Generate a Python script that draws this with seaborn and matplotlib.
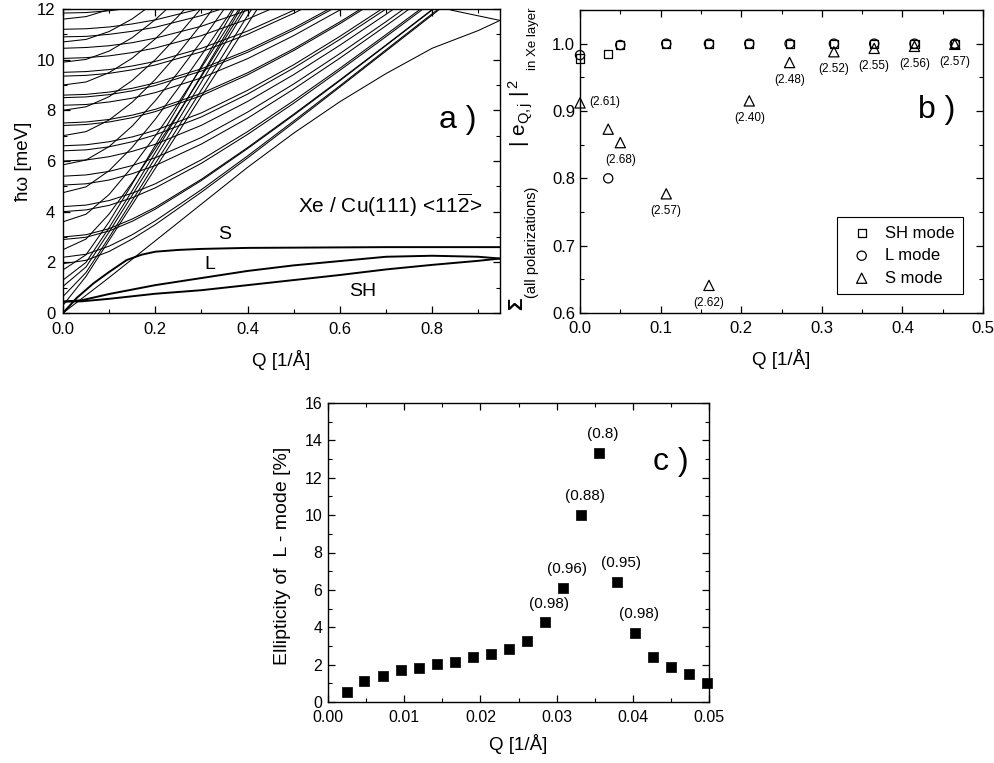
import matplotlib
matplotlib.use("Agg")
import matplotlib.pyplot as plt
import seaborn as sns
import pandas as pd
from matplotlib.ticker import MultipleLocator, FormatStrFormatter

# ---------------- panel a : dispersion curves ----------------
q_long = [0, 0.05, 0.1, 0.15, 0.2, 0.25, 0.3, 0.35, 0.4, 0.45]
long_bands = [
    [0.3, 1.45, 2.87, 4.28, 5.71, 7.13, 8.56, 9.98, 11.4, 12.83],
    [0.65, 1.6, 2.99, 4.44, 5.9, 7.35, 8.81, 10.27, 11.74, 13.2],
    [1.05, 1.82, 3.2, 4.65, 6.13, 7.62, 9.12, 10.62, 12.12],
    [1.3, 2.0, 3.37, 4.83, 6.34, 7.86, 9.39, 10.93, 12.47],
    [1.7, 2.3, 3.6, 5.1, 6.62, 8.17, 9.75, 11.33, 12.92],
    [2.5, 2.92, 3.91, 5.15, 6.5, 7.9, 9.34, 10.8, 12.26],
    [3.6, 3.9, 4.68, 5.77, 6.99, 8.3, 9.69, 11.1, 12.53],
    [4.75, 4.98, 5.62, 6.54, 7.65, 8.88, 10.18, 11.52, 12.9],
    [5.85, 6.04, 6.57, 7.38, 8.38, 9.51, 10.73, 12.02],
    [7.0, 7.16, 7.62, 8.32, 9.22, 10.26, 11.4, 12.62],
    [8.0, 8.14, 8.54, 9.18, 10.0, 10.97, 12.04],
    [9.0, 9.12, 9.49, 10.06, 10.82, 11.72, 12.73],
    [9.9, 10.01, 10.34, 10.87, 11.58, 12.42],
    [10.7, 10.8, 11.11, 11.61, 12.27],
    [11.6, 11.7, 11.98, 12.44],
]
q_trans = [0, 0.05, 0.1, 0.15, 0.2, 0.3, 0.4, 0.5, 0.6, 0.7, 0.8, 0.9]
trans_bands = [
    [1.95, 2.08, 2.43, 2.92, 3.49, 4.77, 6.12, 7.51, 8.92, 10.34, 11.76, 13.19],
    [2.2, 2.32, 2.64, 3.09, 3.64, 4.87, 6.2, 7.58, 8.97, 10.39, 11.81, 13.23],
    [2.9, 2.99, 3.24, 3.62, 4.1, 5.23, 6.49, 7.81, 9.17, 10.56, 11.96, 13.37],
    [3.0, 3.09, 3.33, 3.71, 4.17, 5.28, 6.53, 7.85, 9.2, 10.58, 11.98, 13.39],
    [4.0, 4.07, 4.25, 4.55, 4.94, 5.91, 7.05, 8.28, 9.58, 10.91, 12.27],
    [4.2, 4.26, 4.44, 4.73, 5.1, 6.05, 7.16, 8.38, 9.66, 10.99, 12.34],
    [5.05, 5.1, 5.25, 5.5, 5.82, 6.67, 7.69, 8.84, 10.06, 11.34, 12.65],
    [5.4, 5.45, 5.59, 5.82, 6.13, 6.93, 7.93, 9.04, 10.24, 11.5, 12.8],
    [6.0, 6.04, 6.17, 6.38, 6.66, 7.41, 8.35, 9.41, 10.57, 11.79, 13.06],
    [6.4, 6.44, 6.56, 6.76, 7.03, 7.74, 8.64, 9.67, 10.8, 12.0, 13.25],
    [6.6, 6.64, 6.76, 6.95, 7.21, 7.9, 8.79, 9.8, 10.92, 12.11],
    [7.4, 7.44, 7.54, 7.71, 7.95, 8.58, 9.4, 10.36, 11.42, 12.56],
    [7.5, 7.54, 7.64, 7.81, 8.04, 8.67, 9.48, 10.43, 11.49, 12.62],
    [8.2, 8.23, 8.33, 8.48, 8.7, 9.28, 10.04, 10.95, 11.96, 13.05],
    [8.5, 8.53, 8.62, 8.77, 8.98, 9.55, 10.29, 11.17, 12.16],
    [8.6, 8.63, 8.72, 8.87, 9.08, 9.64, 10.37, 11.25, 12.23],
    [9.35, 9.38, 9.46, 9.6, 9.79, 10.31, 11.0, 11.83, 12.77],
    [9.5, 9.53, 9.61, 9.75, 9.93, 10.45, 11.13, 11.95, 12.88],
    [10.05, 10.08, 10.15, 10.28, 10.46, 10.95, 11.6, 12.39],
    [10.45, 10.48, 10.55, 10.67, 10.85, 11.32, 11.95, 12.72],
    [10.9, 10.92, 11.0, 11.12, 11.28, 11.74, 12.35],
    [11.2, 11.22, 11.29, 11.41, 11.57, 12.02],
    [11.84, 11.86, 11.93, 12.04],
]
edge_q = [0, 0.1, 0.2, 0.3, 0.4, 0.5, 0.6, 0.7, 0.8, 0.9, 0.947]
edge_e = [0, 1.4, 2.85, 4.3, 5.75, 7.1, 8.34, 9.45, 10.45, 11.15, 11.55]
fold_q = [0.84, 0.947]
fold_e = [11.96, 11.55]
s_q = [0, 0.03, 0.066, 0.1, 0.138, 0.17, 0.2, 0.25, 0.3, 0.4, 0.5, 0.6, 0.7, 0.8, 0.9, 0.947]
s_e = [0, 0.6, 1.17, 1.62, 2.09, 2.3, 2.42, 2.49, 2.53, 2.57, 2.58, 2.59, 2.6, 2.6, 2.6, 2.6]
l_q = [0, 0.04, 0.1, 0.2, 0.3, 0.4, 0.5, 0.6, 0.7, 0.8, 0.9, 0.947]
l_e = [0.45, 0.5, 0.75, 1.1, 1.38, 1.66, 1.88, 2.05, 2.22, 2.26, 2.22, 2.15]
sh_q = [0, 0.04, 0.1, 0.2, 0.3, 0.4, 0.5, 0.6, 0.7, 0.8, 0.9, 0.947]
sh_e = [0.45, 0.46, 0.56, 0.76, 0.9, 1.1, 1.3, 1.5, 1.72, 1.9, 2.06, 2.15]

# ---------------- panel b ----------------
q_b = [0.0, 0.035, 0.05, 0.107, 0.16, 0.21, 0.26, 0.315, 0.365, 0.415, 0.465]
sh_weight = [0.978, 0.984, 0.998, 1.0, 1.0, 1.0, 1.0, 1.0, 1.0, 1.0, 1.0]
l_weight = [0.983, 0.800, 0.998, 1.0, 1.0, 1.0, 1.0, 1.0, 1.0, 1.0, 1.0]
s_weight = [0.912, 0.873, 0.853, 0.777, 0.641, 0.915, 0.972, 0.988, 0.993, 0.996, 0.999]
s_energy_labels = ["(2.61)", "", "(2.68)", "(2.57)", "(2.62)", "(2.40)",
                   "(2.48)", "(2.52)", "(2.55)", "(2.56)", "(2.57)"]

# ---------------- panel c ----------------
q_c = [0.00245, 0.00477, 0.00717, 0.00958, 0.01194, 0.01426, 0.01662, 0.01899,
       0.02135, 0.02375, 0.02612, 0.02852, 0.03084, 0.03316, 0.03556, 0.03793,
       0.04025, 0.04261, 0.04497, 0.04738, 0.04974]
ellipticity = [0.55, 1.12, 1.39, 1.70, 1.84, 2.02, 2.12, 2.41, 2.57, 2.84, 3.28,
               4.26, 6.12, 10.0, 13.34, 6.44, 3.71, 2.41, 1.86, 1.48, 1.0]
c_labels = ["", "", "", "", "", "", "", "", "", "", "", "(0.98)", "(0.96)",
            "(0.88)", "(0.8)", "(0.95)", "(0.98)", "", "", "", ""]

# ---------------- style ----------------
sns.set_style("ticks")
plt.rcParams['font.family'] = ['Liberation Sans', 'DejaVu Sans']
plt.rcParams.update({
    'mathtext.fontset': 'custom',
    'mathtext.rm': 'Liberation Sans',
    'mathtext.it': 'Liberation Sans:italic',
    'mathtext.bf': 'Liberation Sans:bold',
    'axes.edgecolor': 'black',
    'axes.labelcolor': 'black',
    'text.color': 'black',
    'xtick.color': 'black',
    'ytick.color': 'black',
    'axes.linewidth': 1.0,
})

W, H = 994, 763
fig = plt.figure(figsize=(W / 100, H / 100), dpi=100)


def box(l, t, r, b):
    return [l / W, 1 - b / H, (r - l) / W, (b - t) / H]


def style_ticks(ax, xpad, ypad, fs):
    ax.tick_params(which='both', direction='in', top=True, right=True,
                   labelsize=fs)
    ax.tick_params(which='major', length=5, width=0.9)
    ax.tick_params(which='minor', length=3, width=0.8)
    ax.tick_params(axis='x', which='both', pad=xpad)
    ax.tick_params(axis='y', which='both', pad=ypad)


# ---------------- panel a ----------------
ax_a = fig.add_axes(box(63, 9, 500, 313))
rows = []
for i, band in enumerate(long_bands):
    for q, e in zip(q_long, band):
        rows.append((f"long{i}", q, e))
for i, band in enumerate(trans_bands):
    for q, e in zip(q_trans, band):
        rows.append((f"trans{i}", q, e))
for q, e in zip(edge_q, edge_e):
    rows.append(("edge", q, e))
for q, e in zip(fold_q, fold_e):
    rows.append(("fold", q, e))
df_bulk = pd.DataFrame(rows, columns=["band", "Q", "E"])

mrows = []
for name, qs, es in (("S", s_q, s_e), ("L", l_q, l_e), ("SH", sh_q, sh_e)):
    for q, e in zip(qs, es):
        mrows.append((name, q, e))
df_modes = pd.DataFrame(mrows, columns=["band", "Q", "E"])

sns.lineplot(data=df_bulk, x="Q", y="E", units="band", estimator=None,
             sort=False, color="black", lw=0.75, ax=ax_a, legend=False)
sns.lineplot(data=df_modes, x="Q", y="E", units="band", estimator=None,
             sort=False, color="black", lw=1.4, ax=ax_a, legend=False)
ax_a.set_xlim(0, 0.947)
ax_a.set_ylim(0, 12)
ax_a.xaxis.set_major_locator(MultipleLocator(0.2))
ax_a.xaxis.set_minor_locator(MultipleLocator(0.1))
ax_a.yaxis.set_major_locator(MultipleLocator(2))
ax_a.yaxis.set_minor_locator(MultipleLocator(1))
ax_a.xaxis.set_major_formatter(FormatStrFormatter('%.1f'))
ax_a.yaxis.set_major_formatter(FormatStrFormatter('%d'))
style_ticks(ax_a, 6.5, 5.5, 12)
ax_a.set_xlabel("Q [1/Å]", fontsize=13.5, labelpad=9)
ax_a.set_ylabel("ħω [meV]", fontsize=13.5)
ax_a.yaxis.set_label_coords(-0.072, 0.5)
ax_a.text(0.856, 7.62, "a )", fontsize=23, ha="center", va="center")
ax_a.text(0.709, 4.26, r"Xe / Cu(111) <11$\mathrm{\overline{2}}$>",
          fontsize=15, ha="center", va="center")
ax_a.text(0.351, 3.08, "S", fontsize=14, ha="center", va="center")
ax_a.text(0.318, 1.9, "L", fontsize=14, ha="center", va="center")
ax_a.text(0.65, 0.83, "SH", fontsize=14, ha="center", va="center")

# ---------------- panel b ----------------
ax_b = fig.add_axes(box(580, 10, 983, 313))
specs = [(sh_weight, "s", 34, "SH mode"), (l_weight, "o", 44, "L mode"),
         (s_weight, "^", 54, "S mode")]
for vals, mk, sz, lab in specs:
    sns.scatterplot(x=q_b, y=vals, marker=mk, s=sz, color="black",
                    label=lab, ax=ax_b, clip_on=False, zorder=3)
    coll = ax_b.collections[-1]
    coll.set_facecolor("none")
    coll.set_edgecolor("black")
    coll.set_linewidth(0.9)
for q, w, lab in zip(q_b, s_weight, s_energy_labels):
    if not lab:
        continue
    if q == 0:
        ax_b.annotate(lab, (q, w), xytext=(7, 0.5), textcoords="offset points",
                      ha="left", va="center", fontsize=8.5)
    else:
        ax_b.annotate(lab, (q, w), xytext=(0, -12.5), textcoords="offset points",
                      ha="center", va="center", fontsize=8.5)
ax_b.set_xlim(0, 0.5)
ax_b.set_ylim(0.6, 1.05)
ax_b.xaxis.set_major_locator(MultipleLocator(0.1))
ax_b.xaxis.set_minor_locator(MultipleLocator(0.05))
ax_b.yaxis.set_major_locator(MultipleLocator(0.1))
ax_b.yaxis.set_minor_locator(MultipleLocator(0.05))
ax_b.xaxis.set_major_formatter(FormatStrFormatter('%.1f'))
ax_b.yaxis.set_major_formatter(FormatStrFormatter('%.1f'))
style_ticks(ax_b, 6, 3.5, 12)
ax_b.set_xlabel("Q [1/Å]", fontsize=13.5, labelpad=9)
ax_b.set_ylabel("")
ax_b.text(0.442, 0.902, "b )", fontsize=23, ha="center", va="center")
leg = ax_b.legend(loc="lower right", bbox_to_anchor=(0.950, 0.063),
                  borderaxespad=0, frameon=True, fancybox=False,
                  edgecolor="black", framealpha=1, fontsize=12,
                  handletextpad=0.4, labelspacing=0.45, borderpad=0.5)
leg.get_frame().set_linewidth(0.8)

# composite y label of panel b
fig.text(517 / W, 1 - 304 / H, "Σ", rotation=90, fontsize=15,
         fontweight="bold", ha="center", va="center")
fig.text(532 / W, 1 - 242 / H, "(all polarizations)", rotation=90,
         fontsize=10.5, ha="center", va="center")
fig.text(521 / W, 1 - 113 / H, r"$|\ \mathrm{e}_{\mathrm{Q,j}}\ |^{\,2}$",
         rotation=90, fontsize=15, ha="center", va="center")
fig.text(533 / W, 1 - 39 / H, "in Xe layer", rotation=90,
         fontsize=9.5, ha="center", va="center")

# ---------------- panel c ----------------
ax_c = fig.add_axes(box(328, 403, 709, 702))
sns.scatterplot(x=q_c, y=ellipticity, marker="s", s=52, color="black",
                edgecolor="black", linewidth=0.5, ax=ax_c, clip_on=False,
                zorder=3, legend=False)
for q, v, lab in zip(q_c, ellipticity, c_labels):
    if lab:
        ax_c.annotate(lab, (q, v), xytext=(3, 13.5), textcoords="offset points",
                      ha="center", va="center", fontsize=11)
ax_c.set_xlim(0, 0.05)
ax_c.set_ylim(0, 16)
ax_c.xaxis.set_major_locator(MultipleLocator(0.01))
ax_c.xaxis.set_minor_locator(MultipleLocator(0.005))
ax_c.yaxis.set_major_locator(MultipleLocator(2))
ax_c.yaxis.set_minor_locator(MultipleLocator(1))
ax_c.xaxis.set_major_formatter(FormatStrFormatter('%.2f'))
ax_c.yaxis.set_major_formatter(FormatStrFormatter('%d'))
style_ticks(ax_c, 6, 4, 11.5)
ax_c.set_xlabel("Q [1/Å]", fontsize=13.5, labelpad=6)
ax_c.set_ylabel("Ellipticity of  L - mode [%]", fontsize=14)
ax_c.yaxis.set_label_coords(-0.097, 0.49)
ax_c.text(0.045, 12.84, "c )", fontsize=23, ha="center", va="center")

fig.savefig("out.png", dpi=100)
